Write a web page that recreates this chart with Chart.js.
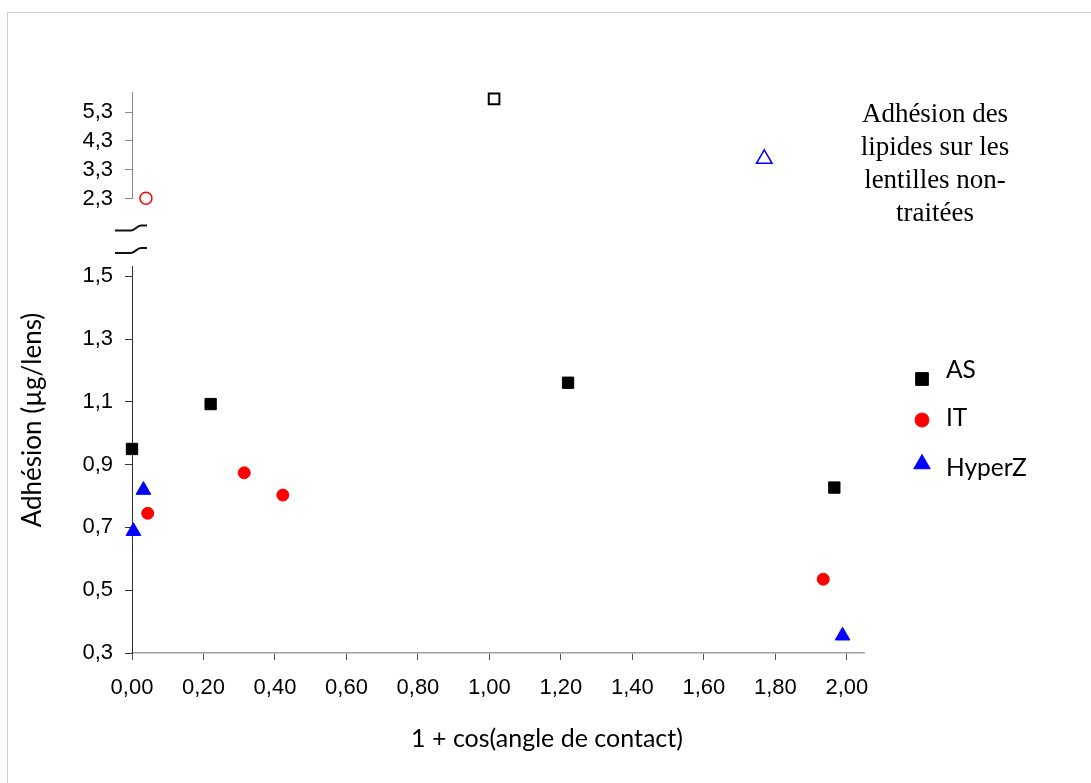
<!DOCTYPE html>
<html>
<head>
<meta charset="utf-8">
<title>Adhésion des lipides</title>
<script src="https://cdn.jsdelivr.net/npm/chart.js@4.4.0/dist/chart.umd.min.js"></script>
<style>
    body { margin: 0; background: #fff; }
    #frame { position: absolute; left: 7px; top: 12px; width: 1100px; height: 800px; border: 1.5px solid #cfcfcf; }
    #wrap { position: absolute; left: 0; top: 0; width: 1091px; height: 783px; }
</style>
</head>
<body>
<div id="frame"></div>
<div id="wrap"><canvas id="chart" width="1091" height="783"></canvas></div>
<script>
// tick positions
const xTicks = [0, 0.2, 0.4, 0.6, 0.8, 1.0, 1.2, 1.4, 1.6, 1.8, 2.0];
const lowerTicks = [0.3, 0.5, 0.7, 0.9, 1.1, 1.3, 1.5];
const upperTicks = [2.3, 3.3, 4.3, 5.3];

// series (below the axis break)
const asX = [0.00, 0.22, 1.22, 1.965];
const asY = [0.95, 1.093, 1.161, 0.827];
const itX = [0.044, 0.314, 0.422, 1.934];
const itY = [0.745, 0.874, 0.803, 0.535];
const hyperzX = [0.004, 0.032, 1.988];
const hyperzY = [0.688, 0.819, 0.355];

// points above the axis break (open markers)
const asHighX = [1.013];
const asHighY = [5.76];
const itHighX = [0.039];
const itHighY = [2.31];
const hyperzHighX = [1.769];
const hyperzHighY = [3.68];

const xTitle = '1 + cos(angle de contact)';
const yTitle = 'Adhésion (µg/lens)';
const noteLines = ['Adhésion des', 'lipides sur les', 'lentilles non-', 'traitées'];

const toPoints = (xs, ys) => xs.map((x, i) => ({ x: x, y: ys[i] }));
const comma = (v, d) => Number(v).toFixed(d).replace('.', ',');
const tickFont = { family: 'Liberation Sans', size: 22 };

const overlay = {
    id: 'overlay',
    afterDraw(chart) {
        const ctx = chart.ctx;
        const area = chart.chartArea;
        const gap = chart.scales.yGap;
        ctx.save();

        // axis break marks
        ctx.strokeStyle = '#111';
        ctx.lineWidth = 2;
        [gap.top + 32, gap.bottom - 14].forEach(y => {
            const l = area.left;
            ctx.beginPath();
            ctx.moveTo(l - 17, y);
            ctx.lineTo(l - 1, y);
            ctx.bezierCurveTo(l + 3, y, l + 5, y - 5, l + 9, y - 5);
            ctx.lineTo(l + 15, y - 5);
            ctx.stroke();
        });

        // axis titles
        ctx.fillStyle = '#000';
        ctx.textAlign = 'center';
        ctx.textBaseline = 'middle';
        ctx.font = '25px Lato';
        ctx.fillText(xTitle, 547, 739);
        ctx.save();
        ctx.translate(33, 420);
        ctx.rotate(-Math.PI / 2);
        ctx.font = '26px Lato';
        ctx.fillText(yTitle, 0, 0);
        ctx.restore();

        // note in the upper right
        ctx.font = '27px "Liberation Serif"';
        ctx.textBaseline = 'alphabetic';
        noteLines.forEach((line, i) => ctx.fillText(line, 935, 122 + i * 33));

        // legend
        const legendY = [379, 420, 464];
        const textY = [370, 418, 468];
        ctx.font = '24.5px Lato';
        ctx.textAlign = 'left';
        ctx.textBaseline = 'middle';
        chart.data.datasets.filter(ds => ds.inLegend).forEach((ds, i) => {
            ctx.fillStyle = ds.backgroundColor;
            ctx.strokeStyle = ds.borderColor;
            ctx.lineWidth = 1;
            Chart.helpers.drawPoint(ctx, {
                pointStyle: ds.pointStyle,
                radius: ds.pointRadius + 1,
                rotation: 0,
                borderWidth: 1
            }, 922, legendY[i]);
            ctx.fillStyle = '#000';
            ctx.fillText(ds.label, 946, textY[i]);
        });
        ctx.restore();
    }
};

const leftAxis = (weight, stackWeight, min, max, ticks, color) => ({
    type: 'linear',
    position: 'left',
    stack: 'left',
    weight: weight,
    stackWeight: stackWeight,
    min: min,
    max: max,
    afterBuildTicks: s => { s.ticks = ticks.map(v => ({ value: v })); },
    afterFit: s => { s.width = 132; },
    grid: { drawOnChartArea: false, tickLength: 7, color: color },
    border: { color: color, width: 1 },
    ticks: { font: tickFont, color: '#000', padding: 12, autoSkip: false, callback: v => comma(v, 1) }
});

new Chart(document.getElementById('chart'), {
    type: 'scatter',
    data: {
        datasets: [
            { label: 'AS', inLegend: true, data: toPoints(asX, asY), yAxisID: 'y', pointStyle: 'rect', pointRadius: 8, backgroundColor: '#000', borderColor: '#000', borderWidth: 1, clip: false },
            { label: 'IT', inLegend: true, data: toPoints(itX, itY), yAxisID: 'y', pointStyle: 'circle', pointRadius: 6, backgroundColor: '#ff0000', borderColor: '#ff0000', borderWidth: 1, clip: false },
            { label: 'HyperZ', inLegend: true, data: toPoints(hyperzX, hyperzY), yAxisID: 'y', pointStyle: 'triangle', pointRadius: 8.5, backgroundColor: '#0000ff', borderColor: '#0000ff', borderWidth: 1, clip: false },
            { label: 'AS', data: toPoints(asHighX, asHighY), yAxisID: 'y2', pointStyle: 'rect', pointRadius: 7.5, backgroundColor: '#fff', borderColor: '#000', borderWidth: 2, clip: false },
            { label: 'IT', data: toPoints(itHighX, itHighY), yAxisID: 'y2', pointStyle: 'circle', pointRadius: 6, backgroundColor: '#fff', borderColor: '#ff0000', borderWidth: 1.5, clip: false },
            { label: 'HyperZ', data: toPoints(hyperzHighX, hyperzHighY), yAxisID: 'y2', pointStyle: 'triangle', pointRadius: 9, backgroundColor: '#fff', borderColor: '#0000ff', borderWidth: 1.5, clip: false }
        ]
    },
    options: {
        responsive: false,
        animation: false,
        layout: { padding: { top: 92, right: 227, bottom: 0, left: 0 } },
        plugins: { legend: { display: false }, tooltip: { enabled: false } },
        scales: {
            x: {
                type: 'linear',
                min: 0,
                max: 2.048,
                afterBuildTicks: s => { s.ticks = xTicks.map(v => ({ value: v })); },
                afterFit: s => { s.height = 130; },
                grid: { drawOnChartArea: false, tickLength: 7, color: '#555' },
                border: { color: '#a0a0a0', width: 1.5 },
                ticks: { font: tickFont, color: '#000', padding: 15, maxRotation: 0, autoSkip: false, callback: v => comma(v, 2) }
            },
            y: leftAxis(1, 385.7, 0.3, 1.53, lowerTicks, '#333'),
            yGap: {
                type: 'linear',
                position: 'left',
                stack: 'left',
                weight: 2,
                stackWeight: 68.3,
                afterFit: s => { s.width = 132; },
                grid: { display: false },
                border: { display: false },
                ticks: { display: false }
            },
            y2: leftAxis(3, 106.4, 2.3, 6.0, upperTicks, '#888')
        }
    },
    plugins: [overlay]
});
</script>
</body>
</html>
